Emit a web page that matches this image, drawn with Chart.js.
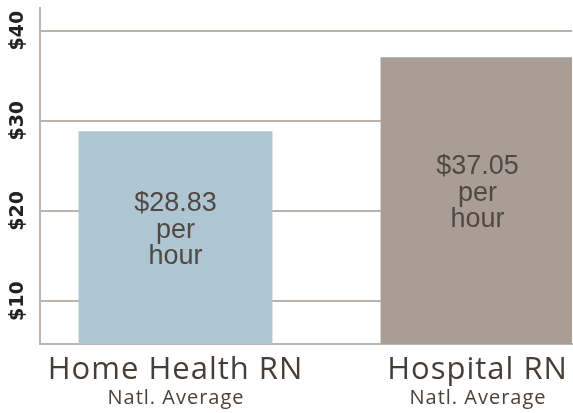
<!DOCTYPE html>
<html><head><meta charset="utf-8">
<script src="https://cdn.jsdelivr.net/npm/chart.js@4.4.1/dist/chart.umd.min.js"></script>
<style>html,body{margin:0;padding:0;background:#fff;overflow:hidden}#wrap{width:573px;height:413px;position:relative}</style>
</head><body><div id="wrap"><canvas id="c"></canvas></div>
<script>
const categories = ['Home Health RN', 'Hospital RN'];
const subLabels = ['Natl. Average', 'Natl. Average'];
const hourlyPay = [28.83, 37.05];
const unitLines = ['per', 'hour'];
const yTickValues = [10, 20, 30, 40];
const barColors = ['#aec6d2', '#a89e95'];

class SpacedLinearScale extends Chart.LinearScale {
  drawLabels(chartArea) {
    const c = this.ctx;
    c.save();
    c.letterSpacing = this.options.ticks.letterSpacing || '0px';
    super.drawLabels(chartArea);
    c.restore();
  }
}
SpacedLinearScale.id = 'spacedLinear';
SpacedLinearScale.defaults = Chart.LinearScale.defaults;
Chart.register(SpacedLinearScale);

const barTextPlugin = {
  id: 'barText',
  afterDatasetsDraw(chart) {
    const ctx = chart.ctx;
    const meta = chart.getDatasetMeta(0);
    const bottom = chart.chartArea.bottom;
    ctx.save();
    ctx.font = '27px "Liberation Sans", Arial, sans-serif';
    ctx.fillStyle = '#514843';
    ctx.textAlign = 'center';
    ctx.textBaseline = 'alphabetic';
    meta.data.forEach((bar, i) => {
      const yc = (bar.y + Math.min(bar.base, bottom)) / 2;
      const lines = ['$' + hourlyPay[i].toFixed(2)].concat(unitLines);
      lines.forEach((t, k) => ctx.fillText(t, bar.x, yc + (k - 1) * 26.5));
    });
    ctx.restore();
  }
};

const subLabelPlugin = {
  id: 'subLabel',
  afterDraw(chart) {
    const ctx = chart.ctx;
    const xs = chart.scales.x;
    ctx.save();
    ctx.font = '20px "Open Sans", sans-serif';
    ctx.letterSpacing = '1px';
    ctx.fillStyle = '#4a413b';
    ctx.textAlign = 'center';
    ctx.textBaseline = 'alphabetic';
    subLabels.forEach((t, i) => ctx.fillText(t, xs.getPixelForValue(i) + 0.5, 404));
    ctx.restore();
  }
};

new Chart(document.getElementById('c'), {
  type: 'bar',
  data: {
    datasets: [{
      data: hourlyPay.map((v, i) => ({ x: i, y: v })),
      backgroundColor: barColors,
      borderWidth: 0,
      barPercentage: 0.642,
      categoryPercentage: 1
    }]
  },
  options: {
    responsive: true,
    maintainAspectRatio: false,
    animation: false,
    layout: { padding: { top: 8, right: 1, left: 0, bottom: 0 } },
    plugins: { legend: { display: false }, tooltip: { enabled: false } },
    scales: {
      x: {
        type: 'spacedLinear',
        offset: false,
        min: -0.4487,
        max: 1.3129,
        grid: { display: false, drawTicks: false },
        border: { display: true, color: '#bdb5ae', width: 2 },
        ticks: {
          autoSkip: false,
          padding: 8,
          letterSpacing: '1px',
          color: '#473e38',
          font: { family: 'Open Sans', size: 31 },
          callback: (v) => categories[v]
        },
        afterBuildTicks: (s) => { s.ticks = categories.map((_, i) => ({ value: i })); },
        afterFit: (s) => { s.height = 69; }
      },
      y: {
        min: 5.25,
        max: 42.5,
        grid: { color: '#bab2ab', lineWidth: 2, drawTicks: false },
        border: { color: '#bdb5ae', width: 2 },
        ticks: {
          minRotation: 90,
          maxRotation: 90,
          crossAlign: 'center',
          padding: 2,
          color: '#222',
          font: { family: 'DejaVu Sans', weight: 'bold', size: 19, lineHeight: 0.5 },
          callback: (v) => '$' + v
        },
        afterBuildTicks: (s) => { s.ticks = yTickValues.map(v => ({ value: v })); },
        afterFit: (s) => { s.width = 40; }
      }
    }
  },
  plugins: [barTextPlugin, subLabelPlugin]
});
</script></body></html>
